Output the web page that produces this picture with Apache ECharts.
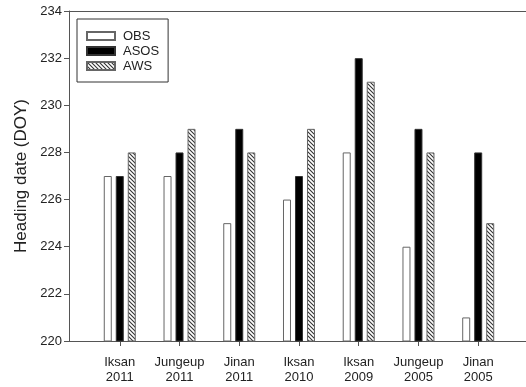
<!DOCTYPE html>
<html>
<head>
<meta charset="utf-8">
<script src="https://cdn.jsdelivr.net/npm/echarts@6/dist/echarts.min.js"></script>
<style>
html,body{margin:0;padding:0;background:#fff;}
#chart{width:526px;height:387px;}
</style>
</head>
<body>
<div id="chart"></div>
<script>
var categories = ['Iksan\n2011','Jungeup\n2011','Jinan\n2011','Iksan\n2010','Iksan\n2009','Jungeup\n2005','Jinan\n2005'];
var obs  = [227, 227, 225, 226, 228, 224, 221];
var asos = [227, 228, 229, 227, 232, 229, 228];
var aws  = [228, 229, 228, 229, 231, 228, 225];
var yTicks = [220, 222, 224, 226, 228, 230, 232, 234];

var positions = categories.map(function(c, i){ return i + 1; });
function pairs(arr){ return arr.map(function(v, i){ return [positions[i], v]; }); }

var hatch = document.createElement('canvas');
hatch.width = 4; hatch.height = 4;
var ctx = hatch.getContext('2d');
ctx.fillStyle = '#ffffff';
ctx.fillRect(0,0,4,4);
ctx.strokeStyle = '#333';
ctx.lineWidth = 1.1;
[-4,0,4].forEach(function(c){
  ctx.beginPath();
  ctx.moveTo(-1, c-1);
  ctx.lineTo(5, c+5);
  ctx.stroke();
});

var font = 'Liberation Sans, Arial, sans-serif';
var axisColor = '#555';

var chart = echarts.init(document.getElementById('chart'), null, {renderer:'canvas'});
chart.setOption({
  animation: false,
  backgroundColor: '#fff',
  grid: {left: 69, top: 11, right: 0, bottom: 46, containLabel: false},
  legend: {
    orient: 'vertical',
    left: 77, top: 19,
    padding: [10, 9, 9, 9],
    borderColor: '#333', borderWidth: 1,
    icon: 'rect',
    itemWidth: 28, itemHeight: 8, itemGap: 1,
    textStyle: {fontFamily: font, fontSize: 13, color: '#222', lineHeight: 14, padding:[0,0,0,3]},
    data: ['OBS','ASOS','AWS']
  },
  xAxis: [{
    type: 'value',
    min: 0.15, max: 7.8,
    position: 'bottom',
    axisLine: {show: true, lineStyle: {color: axisColor, width: 1}},
    axisTick: {show: true, length: 5, inside: false, customValues: positions, lineStyle: {color: axisColor}},
    axisLabel: {
      customValues: positions,
      formatter: function(v){ return categories[Math.round(v) - 1] || ''; },
      fontFamily: font, fontSize: 13, color: '#222', lineHeight: 15, margin: 14
    },
    splitLine: {show: false}
  },{
    type: 'value',
    min: 0.15, max: 7.8,
    position: 'top',
    axisLine: {show: true, lineStyle: {color: axisColor, width: 1}},
    axisTick: {show: false},
    axisLabel: {show: false},
    splitLine: {show: false}
  }],
  yAxis: {
    type: 'value',
    min: 220, max: 234, interval: 2,
    name: 'Heading date (DOY)',
    nameLocation: 'middle',
    nameGap: 37,
    nameTextStyle: {fontFamily: font, fontSize: 17, color: '#222'},
    axisLine: {show: true, lineStyle: {color: axisColor, width: 1}},
    axisTick: {show: true, length: 5, lineStyle: {color: axisColor}},
    axisLabel: {fontFamily: font, fontSize: 13, color: '#222', margin: 7},
    splitLine: {show: false}
  },
  series: [{
    name: 'OBS', type: 'bar', data: pairs(obs),
    barWidth: 8, barGap: '50%',
    itemStyle: {color: '#fff', borderColor: '#666', borderWidth: 1}
  },{
    name: 'ASOS', type: 'bar', data: pairs(asos),
    barWidth: 8, barGap: '50%',
    itemStyle: {color: '#000', borderColor: '#333', borderWidth: 1}
  },{
    name: 'AWS', type: 'bar', data: pairs(aws),
    barWidth: 8, barGap: '50%',
    itemStyle: {color: {image: hatch, repeat: 'repeat'}, borderColor: '#666', borderWidth: 1}
  }]
});
</script>
</body>
</html>
